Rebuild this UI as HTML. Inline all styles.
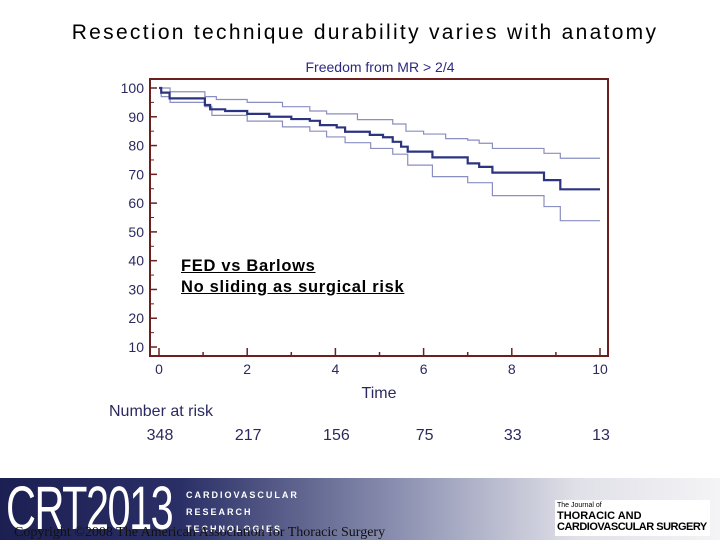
<!DOCTYPE html>
<html><head><meta charset="utf-8"><style>
body{margin:0;width:720px;height:540px;background:#fff;position:relative;overflow:hidden;font-family:"Liberation Sans",Arial,sans-serif}
.abs{position:absolute}
</style></head><body>
<div class="abs" style="left:0;width:730px;top:21px;text-align:center;font-size:21px;letter-spacing:2.3px;color:#000">Resection technique durability varies with anatomy</div>
<svg class="abs" style="left:0;top:0" width="720" height="480">
<g id="g" font-family="Liberation Sans, Arial, sans-serif"></g>
</svg>
<div class="abs" style="left:181px;top:256px;font-size:16.5px;letter-spacing:0.7px;font-weight:bold;text-decoration:underline;line-height:21px;color:#000">FED vs Barlows<br>No sliding as surgical risk</div>
<div class="abs" style="left:0;top:478px;width:720px;height:62px;background:linear-gradient(90deg,#1c1f52 0%,#2a2f66 25%,#8a8fb0 55%,#e0e0e8 80%,#f4f4f6 100%)">
<div class="abs" style="left:6px;top:-6px;font-size:56px;color:#fff;letter-spacing:-2px;transform:scale(0.74,1.1);transform-origin:left top;font-family:'Liberation Sans Narrow','Liberation Sans',sans-serif">CRT2013</div>
<div class="abs" style="left:186px;top:9px;font-size:9px;color:#fff;letter-spacing:2px;font-weight:bold;line-height:17px">CARDIOVASCULAR<br>RESEARCH<br>TECHNOLOGIES</div>
<div class="abs" style="left:14px;top:47px;font-size:14px;color:#111;font-family:'Liberation Serif',serif">Copyright ©2008 The American Association for Thoracic Surgery</div>
<div class="abs" style="left:555px;top:22px;width:155px;height:36px;background:#fff;color:#000;font-weight:bold;line-height:11px">
<div style="font-size:7px;font-weight:normal;margin-left:2px">The Journal of</div>
<div style="font-size:11px;margin-left:2px">THORACIC AND</div>
<div style="font-size:11px;margin-left:2px;letter-spacing:-0.5px">CARDIOVASCULAR SURGERY</div></div>
</div>
<script>
const yTicks=[10,20,30,40,50,60,70,80,90,100];
const xTicks=[0,2,4,6,8,10];
const atRisk=[348,217,156,75,33,13];
const mainT=[0,0.05,0.24,1.04,1.16,1.5,2,2.5,3,3.42,3.65,4.03,4.22,4.78,5.08,5.30,5.49,5.64,6.2,7.0,7.26,7.56,8.73,9.1,10];
const mainS=[100,98.4,96.4,94.1,92.6,92,91,90,89.2,88.6,87.1,86.3,84.8,83.7,82.9,81.3,79.6,77.9,75.9,73.8,72.6,70.6,68.0,64.8,64.8];
const upT=[0,0.25,1.04,1.3,2,2.8,3.42,3.8,4.5,5.3,5.6,6.0,6.5,7.0,7.26,7.56,8.73,9.1,10];
const upS=[100,98.7,97,96,95,93.5,92,91,89,87.5,85,84,82.4,81.9,80.8,79,77.3,75.6,75.6];
const loT=[0,0.05,0.25,1.04,1.2,2,2.8,3.42,3.8,4.22,4.8,5.3,5.64,6.2,7.0,7.56,8.73,9.1,10];
const loS=[100,97,95,93.5,90.5,88.5,86.5,85,83,81,79,77,73.2,69.2,67.1,62.6,58.8,53.9,53.9];
const X=t=>159+t*44.1, Y=v=>88+(100-v)*2.878;
const g=document.getElementById('g'),NS='http://www.w3.org/2000/svg';
function mk(tag,at,txt){const e=document.createElementNS(NS,tag);for(const k in at)e.setAttribute(k,at[k]);if(txt!=null)e.textContent=txt;g.appendChild(e);return e;}
let e=mk('text',{x:380,y:72,'text-anchor':'middle','font-size':14,fill:'#2a2a80'},'Freedom from MR > 2/4');

e=mk('rect',{x:150,y:79,width:458,height:277,fill:'none',stroke:'#6b1f1f','stroke-width':2});

yTicks.forEach(v=>{mk('line',{x1:150,x2:157,y1:Y(v),y2:Y(v),stroke:'#6b1f1f','stroke-width':1.5});
 if(v>10)mk('line',{x1:150,x2:154,y1:Y(v-5),y2:Y(v-5),stroke:'#6b1f1f'});
 e=mk('text',{x:144,y:Y(v)+5,'text-anchor':'end','font-size':14,fill:'#2a2a60'},v);
 });
for(let t=0;t<=10;t++){mk('line',{x1:X(t),x2:X(t),y1:356,y2:t%2?352:348,stroke:'#6b1f1f','stroke-width':1.5});}
xTicks.forEach((t,i)=>{e=mk('text',{x:X(t),y:374,'text-anchor':'middle','font-size':14,fill:'#2a2a60'},t);
 
 e=mk('text',{x:X(t)+1,y:440,'text-anchor':'middle','font-size':16,fill:'#2a2a60'},atRisk[i]);
 });
e=mk('text',{x:379,y:398,'text-anchor':'middle','font-size':16,fill:'#2a2a60'},'Time');

e=mk('text',{x:109,y:416,'font-size':16,fill:'#2a2a60'},'Number at risk');

function step(T,S){let d='M'+X(T[0])+','+Y(S[0]);for(let i=1;i<T.length;i++){d+='H'+X(T[i])+'V'+Y(S[i]);}return d;}
e=mk('path',{d:step(upT,upS),fill:'none',stroke:'#8a8ec0','stroke-width':1.2});

e=mk('path',{d:step(loT,loS),fill:'none',stroke:'#8a8ec0','stroke-width':1.2});

e=mk('path',{d:step(mainT,mainS),fill:'none',stroke:'#2c3480','stroke-width':2.2});

</script>
</body></html>
